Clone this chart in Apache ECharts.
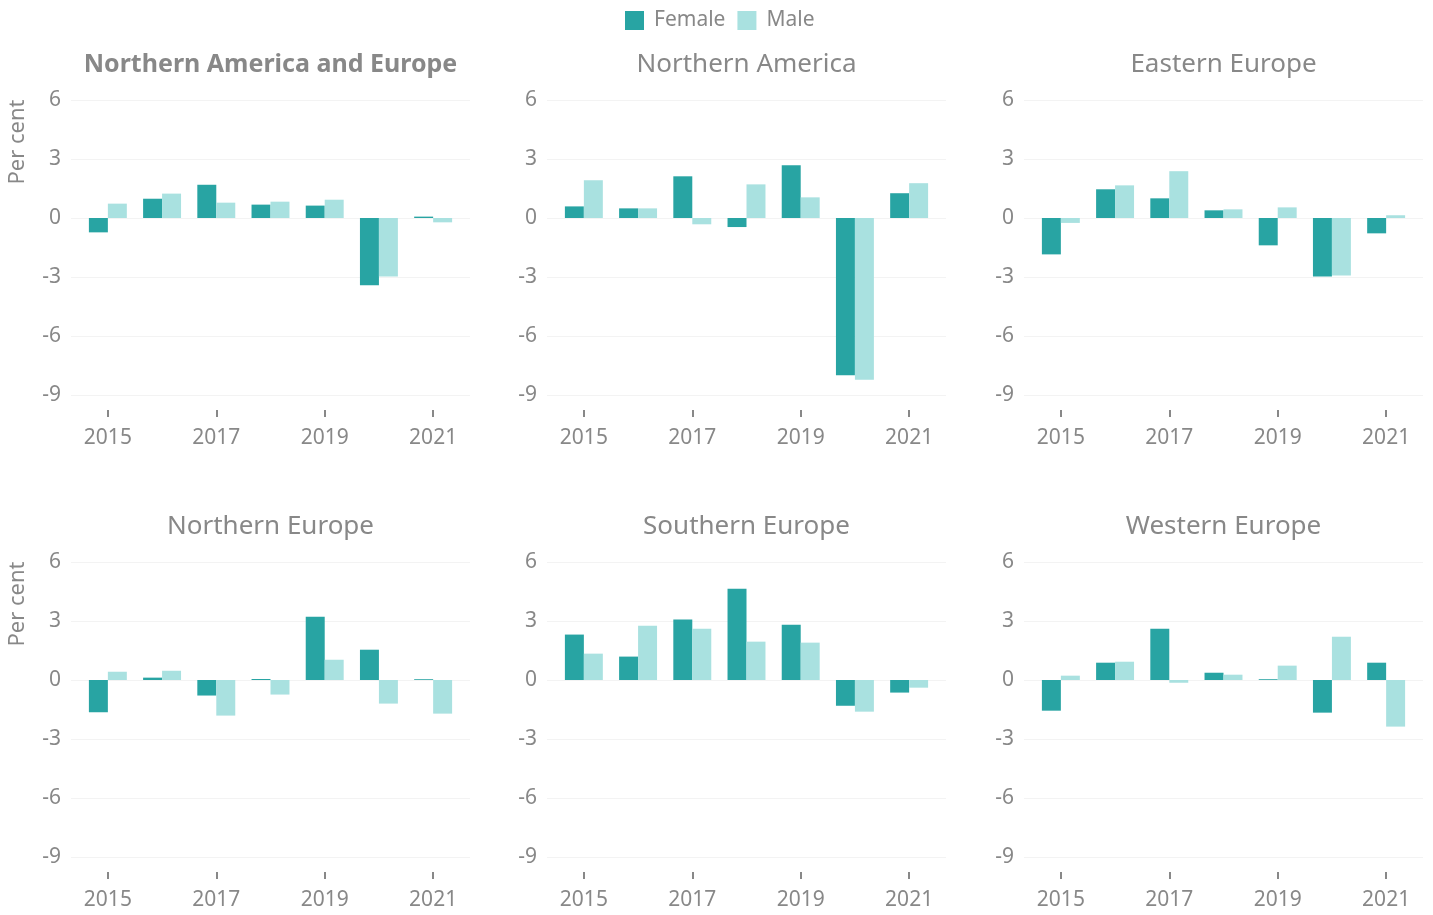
<!DOCTYPE html>
<html>
<head>
<meta charset="utf-8">
<title>Employment change by sex</title>
<script src="https://cdn.jsdelivr.net/npm/echarts@6/dist/echarts.min.js"></script>
<style>
  html, body { margin: 0; padding: 0; background: #fff; }
  #chart { width: 1433px; height: 915px; }
</style>
</head>
<body>
<div id="chart"></div>
<script>
  // years on the x axis
  var years = [2015, 2016, 2017, 2018, 2019, 2020, 2021]
  var yearLabels = [2015, 2017, 2019, 2021]
  var regions = ['Northern America and Europe', 'Northern America', 'Eastern Europe',
    'Northern Europe', 'Southern Europe', 'Western Europe']

  // per cent change
  var naEuropeFemale = [-0.73, 0.98, 1.69, 0.68, 0.63, -3.42, 0.07]
  var naEuropeMale = [0.73, 1.24, 0.78, 0.83, 0.93, -2.97, -0.22]
  var nAmericaFemale = [0.59, 0.49, 2.12, -0.46, 2.68, -8.0, 1.26]
  var nAmericaMale = [1.92, 0.49, -0.32, 1.71, 1.05, -8.22, 1.77]
  var eEuropeFemale = [-1.85, 1.46, 1.0, 0.39, -1.39, -2.97, -0.78]
  var eEuropeMale = [-0.25, 1.66, 2.38, 0.44, 0.54, -2.92, 0.14]
  var nEuropeFemale = [-1.64, 0.12, -0.79, 0.05, 3.21, 1.54, 0.04]
  var nEuropeMale = [0.42, 0.47, -1.81, -0.74, 1.03, -1.2, -1.71]
  var sEuropeFemale = [2.31, 1.19, 3.07, 4.64, 2.81, -1.31, -0.64]
  var sEuropeMale = [1.34, 2.76, 2.61, 1.95, 1.9, -1.61, -0.39]
  var wEuropeFemale = [-1.56, 0.88, 2.61, 0.37, 0.04, -1.66, 0.88]
  var wEuropeMale = [0.22, 0.93, -0.14, 0.27, 0.73, 2.2, -2.37]

  var femaleData = [naEuropeFemale, nAmericaFemale, eEuropeFemale, nEuropeFemale, sEuropeFemale, wEuropeFemale]
  var maleData = [naEuropeMale, nAmericaMale, eEuropeMale, nEuropeMale, sEuropeMale, wEuropeMale]

  var FEMALE = '#28a4a3'
  var MALE = '#a9e1e0'
  var GREY = '#888888'
  var FONT = '"Noto Sans", "Open Sans", sans-serif'

  var colLeft = [71, 547, 1024]
  var rowTop = [100, 562]
  var gw = 399, gh = 295

  var chart = echarts.init(document.getElementById('chart'), null, {renderer: 'canvas'})

  var grids = [], xAxes = [], yAxes = [], titles = [], series = []
  regions.forEach(function (name, i) {
    var col = i % 3, row = Math.floor(i / 3)
    grids.push({left: colLeft[col], top: rowTop[row], width: gw, height: gh})
    titles.push({
      text: name,
      left: colLeft[col] + gw / 2 - 5,
      top: rowTop[row] - 53,
      textAlign: 'center',
      textStyle: {color: GREY, fontSize: i === 0 ? 25 : 26, fontWeight: i === 0 ? 'bold' : 'normal', fontFamily: FONT}
    })
    xAxes.push({
      type: 'value',
      gridIndex: i,
      min: 2014.32,
      max: 2021.68,
      offset: 15,
      splitLine: {show: false},
      axisLine: {show: false, onZero: false},
      axisTick: {show: true, length: 7, customValues: yearLabels, lineStyle: {color: GREY, width: 2}},
      axisLabel: {
        customValues: yearLabels,
        color: GREY, fontSize: 21, margin: 18, fontFamily: FONT,
        formatter: function (v) { return String(v) }
      }
    })
    yAxes.push({
      type: 'value',
      gridIndex: i,
      min: -9,
      max: 6,
      interval: 3,
      axisLine: {show: false},
      axisTick: {show: false},
      splitLine: {lineStyle: {color: '#f3f3f3', width: 1}},
      axisLabel: {color: GREY, fontSize: 21, margin: 10, fontFamily: FONT}
    })
    series.push({
      name: 'Female', type: 'bar', xAxisIndex: i, yAxisIndex: i,
      barGap: 0, barCategoryGap: '30%',
      itemStyle: {color: FEMALE},
      data: years.map(function (y, k) { return [y, femaleData[i][k]] })
    })
    series.push({
      name: 'Male', type: 'bar', xAxisIndex: i, yAxisIndex: i,
      barGap: 0, barCategoryGap: '30%',
      itemStyle: {color: MALE},
      data: years.map(function (y, k) { return [y, maleData[i][k]] })
    })
  })

  chart.setOption({
    animation: false,
    textStyle: {fontFamily: FONT},
    title: titles,
    legend: {
      top: 5,
      left: 620,
      itemWidth: 19,
      itemHeight: 19,
      itemGap: 12,
      icon: 'rect',
      data: ['Female', 'Male'],
      textStyle: {color: GREY, fontSize: 21, fontFamily: FONT, padding: [0, 0, 0, 5]}
    },
    grid: grids,
    xAxis: xAxes,
    yAxis: yAxes,
    series: series,
    graphic: rowTop.map(function (t) {
      return {
        type: 'text',
        x: 18,
        y: t + 42,
        rotation: Math.PI / 2,
        style: {text: 'Per cent', fill: GREY, fontSize: 22, fontFamily: FONT, align: 'center', verticalAlign: 'middle'}
      }
    })
  })
</script>
</body>
</html>
